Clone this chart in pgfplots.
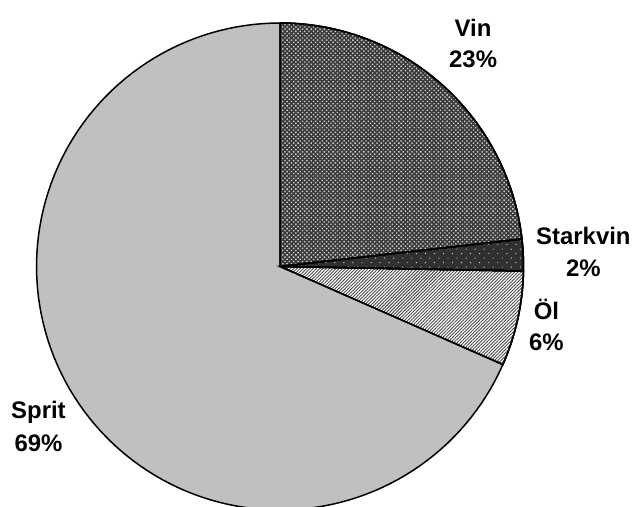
\documentclass[border=0pt]{standalone}
\usepackage{pgfplots}
\pgfplotsset{compat=1.18}
\usepackage{pgfplotstable}
\usetikzlibrary{patterns.meta}
\usepackage{fontspec}
\setmainfont{Liberation Sans}

\definecolor{vinbg}{HTML}{3A3A3A}
\definecolor{vindot}{HTML}{D4D4D4}
\definecolor{starkbg}{HTML}{303030}
\definecolor{starkdot}{HTML}{D8D8D8}
\definecolor{olline}{HTML}{4A4A4A}
\definecolor{spritfill}{HTML}{C0C0C0}

\pgfplotstableread{
idx value
0 23.2
1 2.1
2 6.3
3 68.4
}\piedata

\begin{document}
\begin{tikzpicture}
\pgfplotstablegetelem{0}{value}\of\piedata \pgfmathsetmacro{\vA}{\pgfplotsretval}
\pgfplotstablegetelem{1}{value}\of\piedata \pgfmathsetmacro{\vB}{\pgfplotsretval}
\pgfplotstablegetelem{2}{value}\of\piedata \pgfmathsetmacro{\vC}{\pgfplotsretval}
\pgfplotstablegetelem{3}{value}\of\piedata \pgfmathsetmacro{\vD}{\pgfplotsretval}
\pgfmathsetmacro{\aA}{90}
\pgfmathsetmacro{\aB}{\aA-3.6*\vA}
\pgfmathsetmacro{\aC}{\aB-3.6*\vB}
\pgfmathsetmacro{\aD}{\aC-3.6*\vC}
\pgfmathsetmacro{\aE}{\aD-3.6*\vD}
\begin{axis}[
  hide axis,
  x=243.5bp, y=243.5bp,
  xmin=-1.150, xmax=1.458,
  ymin=-0.9877, ymax=1.0945,
  clip=true,
  every axis plot/.append style={line width=1.5bp, draw=black, samples=120},
]
% Vin
\addplot[fill=vinbg, domain=\aB:\aA,
  postaction={pattern={Dots[angle=45, distance=3.1bp, radius=0.95bp]}, pattern color=vindot}]
  ({cos(x)},{sin(x)}) -- (axis cs:0,0) -- cycle;
% Starkvin
\addplot[fill=starkbg, domain=\aC:\aB,
  postaction={pattern={Dots[angle=45, distance=6.4bp, radius=0.65bp]}, pattern color=starkdot}]
  ({cos(x)},{sin(x)}) -- (axis cs:0,0) -- cycle;
% Ol
\addplot[fill=white, domain=\aD:\aC,
  postaction={pattern={Lines[angle=45, distance=2.3bp, line width=0.9bp]}, pattern color=olline}]
  ({cos(x)},{sin(x)}) -- (axis cs:0,0) -- cycle;
% Sprit
\addplot[fill=spritfill, domain=\aE:\aD]
  ({cos(x)},{sin(x)}) -- (axis cs:0,0) -- cycle;
% redraw outlines on top
\addplot[fill=none, domain=\aB:\aA] ({cos(x)},{sin(x)}) -- (axis cs:0,0) -- cycle;
\addplot[fill=none, domain=\aC:\aB] ({cos(x)},{sin(x)}) -- (axis cs:0,0) -- cycle;
\addplot[fill=none, domain=\aD:\aC] ({cos(x)},{sin(x)}) -- (axis cs:0,0) -- cycle;

\tikzset{lab/.style={anchor=base, inner sep=0pt, font=\bfseries\fontsize{24}{28}\selectfont}}
\node[lab] at (axis cs:0.793,0.9466) {Vin};
\node[lab] at (axis cs:0.793,0.819) {23\%};
\node[lab] at (axis cs:1.246,0.0883) {Starkvin};
\node[lab] at (axis cs:1.246,-0.0431) {2\%};
\node[lab] at (axis cs:1.094,-0.2197) {Öl};
\node[lab] at (axis cs:1.094,-0.347) {6\%};
\node[lab] at (axis cs:-0.992,-0.626) {Sprit};
\node[lab] at (axis cs:-0.992,-0.758) {69\%};
\end{axis}
\pgfresetboundingbox
\useasboundingbox (current axis.south west) rectangle (current axis.north east);
\end{tikzpicture}
\end{document}
